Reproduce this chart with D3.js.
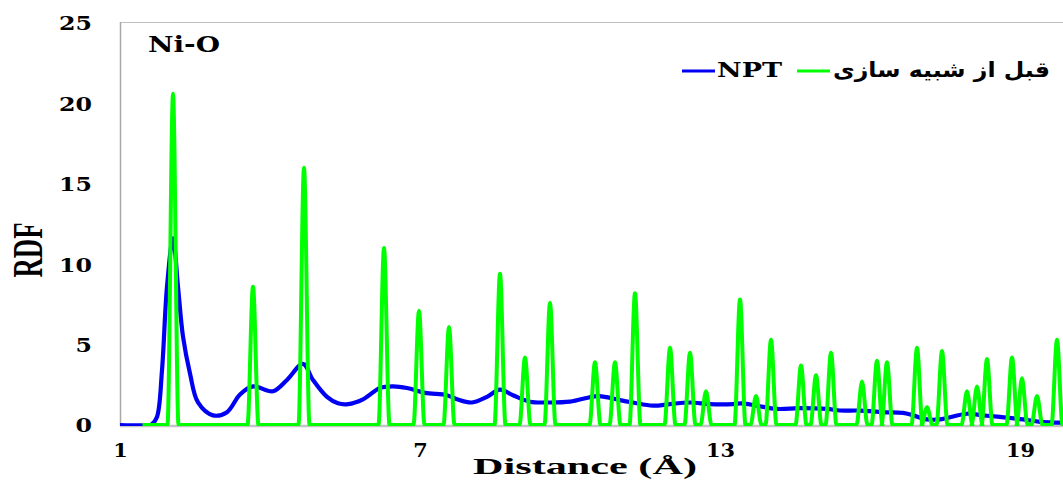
<!DOCTYPE html>
<html>
<head>
<meta charset="utf-8">
<script src="https://cdn.jsdelivr.net/npm/d3@7"></script>
<style>
  html, body { margin: 0; padding: 0; background: #fff; }
  svg { display: block; }
</style>
</head>
<body>
<svg id="chart" width="1063" height="480"></svg>
<script>
// ---- Data ----
// NPT (blue) RDF curve: distance (Å) and g(r)
const nptR = [1.0, 1.6, 1.64, 1.74, 1.84, 1.94, 2.06, 2.16, 2.26, 2.4, 2.56, 2.86, 3.14, 3.4, 3.66,
  4.06, 4.34, 4.66, 4.86, 5.14, 5.36, 5.56, 5.86, 6.2, 6.46, 6.74, 7.1, 7.54, 7.74, 8.04, 8.34,
  8.6, 8.86, 9.2, 9.54, 10.0, 10.54, 10.78, 11.0, 11.26, 11.66, 12.0, 12.4, 12.8, 13.26, 13.44,
  13.74, 14.14, 14.6, 15.14, 15.4, 15.8, 16.26, 16.66, 16.86, 17.14, 17.4, 17.94, 18.26, 18.6,
  19.06, 19.4, 19.86];
const nptG = [0, 0, 0.06, 0.5, 3.4, 8.6, 11.6, 8.6, 5.5, 3.2, 1.4, 0.6, 0.8, 1.9, 2.4,
  2.1, 2.8, 3.8, 2.8, 1.75, 1.35, 1.3, 1.6, 2.3, 2.4, 2.3, 2.0, 1.85, 1.6, 1.4, 1.75,
  2.2, 1.85, 1.45, 1.4, 1.45, 1.8, 1.7, 1.55, 1.4, 1.2, 1.3, 1.4, 1.3, 1.3, 1.35,
  1.2, 1.0, 1.05, 1.0, 0.9, 0.9, 0.8, 0.75, 0.6, 0.35, 0.35, 0.7, 0.6, 0.5,
  0.35, 0.2, 0.15];

// Before simulation (green): peak positions (Å) and peak heights
const peakR = [2.06, 3.66, 4.68, 6.28, 6.98, 7.58, 8.6, 9.1, 9.6, 10.5, 10.9, 11.3, 12.0, 12.4,
  12.72, 13.4, 13.72, 14.02, 14.62, 14.92, 15.22, 15.84, 16.14, 16.34, 16.94, 17.14, 17.44,
  17.94, 18.14, 18.34, 18.84, 19.04, 19.34, 19.74];
const peakH = [20.6, 8.6, 16.0, 11.0, 7.1, 6.1, 9.4, 4.2, 7.6, 3.9, 3.9, 8.2, 4.8, 4.5,
  2.1, 7.8, 1.8, 5.3, 3.7, 3.1, 4.5, 2.7, 4.0, 3.9, 4.8, 1.1, 4.6,
  2.1, 2.4, 4.1, 4.2, 2.9, 1.8, 5.3];
const peakHalfWidth = 0.11;

const yTicks = [0, 5, 10, 15, 20, 25];
const xTicks = [1, 7, 13, 19];

const seriesNames = ["NPT", "قبل از شبیه سازی"];
const seriesColors = ["#0000f2", "#00ff00"];

// ---- Scales ----
const svg = d3.select("#chart");
const x = d3.scaleLinear().domain([1, 19.86]).range([120, 1063]);
const y = d3.scaleLinear().domain([0, 25]).range([425, 23]);

// ---- Frame ----
svg.append("line").attr("x1", 120).attr("x2", 1063).attr("y1", 22.5).attr("y2", 22.5)
  .attr("stroke", "#c0c0c0").attr("stroke-width", 1);
svg.append("line").attr("x1", 120.5).attr("x2", 120.5).attr("y1", 22).attr("y2", 426)
  .attr("stroke", "#a8a8a8").attr("stroke-width", 1.5);
svg.append("line").attr("x1", 120).attr("x2", 1063).attr("y1", 426).attr("y2", 426)
  .attr("stroke", "#c4c4c4").attr("stroke-width", 2.5);

// ---- Axes ----
const yAxis = svg.append("g").attr("transform", "translate(120,0)")
  .call(d3.axisLeft(y).tickValues(yTicks).tickSize(0).tickPadding(28).tickFormat(d3.format("d")));
yAxis.select(".domain").remove();
yAxis.selectAll("text")
  .attr("font-family", "DejaVu Serif").attr("font-weight", "bold").attr("font-size", 19)
  .attr("fill", "#000").attr("dy", "0.36em")
  .attr("textLength", d => String(d).length * 16.5).attr("lengthAdjust", "spacingAndGlyphs");

const xAxis = svg.append("g").attr("transform", "translate(0,425)")
  .call(d3.axisBottom(x).tickValues(xTicks).tickSize(0).tickPadding(19).tickFormat(d3.format("d")));
xAxis.select(".domain").remove();
xAxis.selectAll("text")
  .attr("font-family", "DejaVu Serif").attr("font-weight", "bold").attr("font-size", 18)
  .attr("fill", "#000")
  .attr("textLength", d => String(d).length * 14.5).attr("lengthAdjust", "spacingAndGlyphs");

// ---- Axis titles ----
svg.append("text").attr("x", 585).attr("y", 474).attr("text-anchor", "middle")
  .attr("font-family", "Liberation Serif").attr("font-weight", "bold").attr("font-size", 24)
  .attr("textLength", 224).attr("lengthAdjust", "spacingAndGlyphs")
  .text("Distance (Å)");
svg.append("text").attr("transform", "translate(42,250) rotate(-90)").attr("text-anchor", "middle")
  .attr("font-family", "Liberation Serif").attr("font-weight", "bold").attr("font-size", 42)
  .attr("textLength", 55).attr("lengthAdjust", "spacingAndGlyphs")
  .text("RDF");

// ---- Chart label ----
svg.append("text").attr("x", 148).attr("y", 52)
  .attr("font-family", "DejaVu Serif").attr("font-weight", "bold").attr("font-size", 23)
  .attr("textLength", 72).attr("lengthAdjust", "spacingAndGlyphs")
  .text("Ni-O");

// ---- Lines ----
svg.append("clipPath").attr("id", "plotclip").append("rect")
  .attr("x", 120).attr("y", 0).attr("width", 943).attr("height", 426);

const nptData = nptR.map((r, i) => [r, nptG[i]]);
const blueLine = d3.line().x(d => x(d[0])).y(d => y(d[1])).curve(d3.curveCatmullRom.alpha(0.5));
const greenLine = d3.line().x(d => x(d[0])).y(d => y(d[1])).curve(d3.curveMonotoneX);

svg.append("path").datum(nptData).attr("clip-path", "url(#plotclip)")
  .attr("d", blueLine).attr("fill", "none").attr("stroke", seriesColors[0])
  .attr("stroke-width", 4.2).attr("stroke-linejoin", "round");

const greenData = [[1.45, 0]];
peakR.forEach((r, i) => {
  greenData.push([r - peakHalfWidth, 0], [r, peakH[i]], [r + peakHalfWidth, 0]);
});
greenData.push([19.86, 0]);

svg.append("path").datum(greenData).attr("clip-path", "url(#plotclip)")
  .attr("d", greenLine).attr("fill", "none").attr("stroke", seriesColors[1])
  .attr("stroke-width", 4).attr("stroke-linejoin", "round");

// ---- Legend ----
const lg = svg.append("g");
lg.append("line").attr("x1", 682).attr("x2", 715).attr("y1", 71).attr("y2", 71)
  .attr("stroke", seriesColors[0]).attr("stroke-width", 3);
lg.append("text").attr("x", 717).attr("y", 77)
  .attr("font-family", "DejaVu Serif").attr("font-weight", "bold").attr("font-size", 20)
  .attr("textLength", 65).attr("lengthAdjust", "spacingAndGlyphs")
  .text(seriesNames[0]);
lg.append("line").attr("x1", 797).attr("x2", 830).attr("y1", 71).attr("y2", 71)
  .attr("stroke", seriesColors[1]).attr("stroke-width", 3);
lg.append("text").attr("x", 833).attr("y", 77)
  .attr("font-family", "DejaVu Sans").attr("font-weight", "bold").attr("font-size", 21)
  .attr("textLength", 217).attr("lengthAdjust", "spacingAndGlyphs")
  .text(seriesNames[1]);
</script>
</body>
</html>
